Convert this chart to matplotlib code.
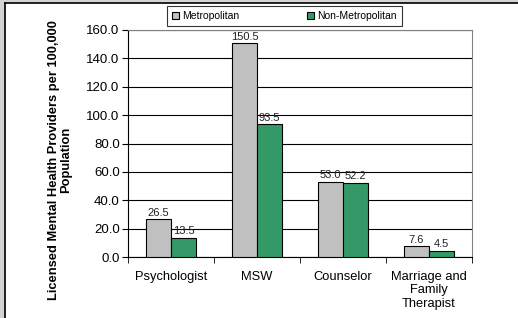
import matplotlib
matplotlib.use("Agg")
import matplotlib.pyplot as plt
import numpy as np
from matplotlib.patches import Rectangle
from matplotlib.lines import Line2D

plt.rcParams['font.family'] = ['Liberation Sans', 'DejaVu Sans']

categories = ["Psychologist", "MSW", "Counselor", "Marriage and\nFamily\nTherapist"]
metro = [26.5, 150.5, 53.0, 7.6]
nonmetro = [13.5, 93.5, 52.2, 4.5]
series_names = ["Metropolitan", "Non-Metropolitan"]
colors = ["#C0C0C0", "#339966"]

W, H = 518, 318
fig = plt.figure(figsize=(W / 100, H / 100), dpi=100)

# frame: gray shade on top/left, black line
fig.patches.append(Rectangle((0, 0), 5 / W, 1, transform=fig.transFigure,
                             facecolor="#d4d4d4", edgecolor="none", zorder=0))
fig.patches.append(Rectangle((0, 1 - 3 / H), 1, 3 / H, transform=fig.transFigure,
                             facecolor="#d4d4d4", edgecolor="none", zorder=0))
fig.lines.append(Line2D([5 / W, 5 / W], [0, 1 - 3 / H], transform=fig.transFigure,
                        color="black", lw=1.2))
fig.lines.append(Line2D([5 / W, 1], [1 - 3 / H, 1 - 3 / H], transform=fig.transFigure,
                        color="black", lw=1.2))

ax = fig.add_axes([128 / W, 61 / H, 344 / W, 227 / H])

x = np.arange(len(categories))
bw = 0.29
b1 = ax.bar(x - bw / 2, metro, bw, color=colors[0], edgecolor="black", lw=0.8,
            label=series_names[0], zorder=3)
b2 = ax.bar(x + bw / 2, nonmetro, bw, color=colors[1], edgecolor="black", lw=0.8,
            label=series_names[1], zorder=3)
for bars in (b1, b2):
    for r in bars:
        ax.text(r.get_x() + r.get_width() / 2, r.get_height() + 1.2, f"{r.get_height():.1f}",
                ha="center", va="bottom", fontsize=8, color="#222222")

ax.set_xlim(-0.5, len(categories) - 0.5)
ax.set_ylim(0, 160)
ax.set_yticks(np.arange(0, 161, 20))
ax.set_yticklabels([f"{v:.1f}" for v in np.arange(0, 161, 20)], fontsize=9.5)
ax.set_xticks(x)
ax.set_xticklabels(categories, fontsize=9.3, linespacing=1.15)
ax.set_xticks(np.arange(-0.5, len(categories)), minor=True)
ax.tick_params(axis="x", which="major", length=0, pad=10)
ax.tick_params(axis="x", which="minor", length=4, direction="out")
ax.tick_params(axis="y", length=4, direction="out", pad=2)
ax.yaxis.grid(True, color="black", lw=0.8, zorder=0)
ax.set_axisbelow(True)
for s in ["top", "right"]:
    ax.spines[s].set_color("#808080")
ax.spines["left"].set_color("black")
ax.spines["bottom"].set_color("black")

# y label sits a bit below the axes centre in the original
fig.text(60 / W, 1 - 160 / H, "Licensed Mental Health Providers per 100,000\nPopulation",
         rotation=90, ha="center", va="center", fontsize=9.3, fontweight="bold",
         linespacing=1.1, multialignment="center")

leg = fig.legend(handles=[b1, b2], labels=series_names, loc="center",
                 bbox_to_anchor=(284.5 / W, 1 - 16 / H), ncol=2, fontsize=7.5,
                 frameon=True, fancybox=False, edgecolor="black",
                 handlelength=0.7, handleheight=0.7, handletextpad=0.3,
                 columnspacing=6.5, borderpad=0.45)
leg.get_frame().set_linewidth(0.8)

fig.savefig("out.png", dpi=100)
